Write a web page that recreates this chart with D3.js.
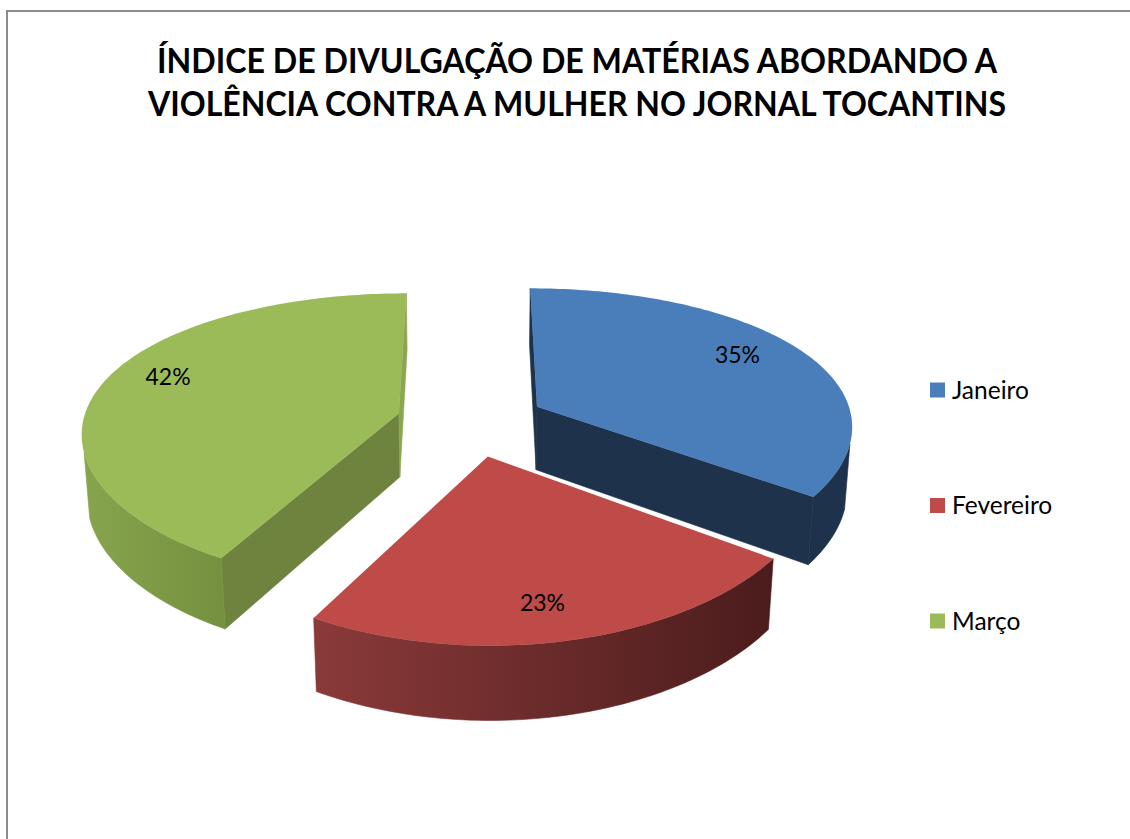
<!DOCTYPE html>
<html>
<head>
<meta charset="UTF-8">
<title>Índice de divulgação</title>
<style>
    body { margin: 0; background: #ffffff; }
    #chart { width: 1130px; height: 839px; }
    text { font-family: Lato, "Open Sans", sans-serif; fill: #000; }
</style>
<script src="https://d3js.org/d3.v7.min.js"></script>
</head>
<body>
<div id="chart"></div>
<script>
// data
const titleLines = ["ÍNDICE DE DIVULGAÇÃO DE MATÉRIAS ABORDANDO A", "VIOLÊNCIA CONTRA A MULHER NO JORNAL TOCANTINS"];
const months = ["Janeiro", "Fevereiro", "Março"];
const shares = [35, 23, 42];

// styles
const topColors  = ["#4a7ebb", "#be4b48", "#9bbb59"];
const wallLight  = ["#1f324b", "#8a3a39", "#87a44d"];
const wallDark   = ["#1f324b", "#4b1c1c", "#75903f"];
const sideStart  = ["#1f324b", "#4b1c1c", "#6e843e"];
const sideEnd    = ["#1f324b", "#4b1c1c", "#8aa650"];
const titleWidth = [840, 858];
const labelNudge = [[-4, -6], [-8, 10], [-2, -10]];

const width = 1130, height = 839;
const R = 316, H = 73, explode = 75, labelR = 245;
const cam = { cx: 471, cy: 422, dist: 1650, tilt: 27 * Math.PI / 180, xPersp: 0.7 };
const cosT = Math.cos(cam.tilt), sinT = Math.sin(cam.tilt);
const eye = [0, cam.dist * sinT, -cam.dist * cosT];

function project(p) {
    const [X, Y, Z] = p;
    const yc = Y * cosT + Z * sinT;
    const zc = cam.dist + Z * cosT - Y * sinT;
    const k = cam.dist / zc;
    return [cam.cx + X * Math.pow(k, cam.xPersp), cam.cy - yc * k];
}
function faces(n, p) {
    return n[0] * (eye[0] - p[0]) + n[1] * (eye[1] - p[1]) + n[2] * (eye[2] - p[2]) > 0;
}
const line = d3.line();

const svg = d3.select("#chart").append("svg")
    .attr("width", width)
    .attr("height", height);
const defs = svg.append("defs");

// frame
svg.append("rect")
    .attr("x", 7).attr("y", 11)
    .attr("width", 1200).attr("height", 900)
    .attr("fill", "none")
    .attr("stroke", "#8c8c8c")
    .attr("stroke-width", 2);

// title
svg.append("g").selectAll("text")
    .data(titleLines)
    .join("text")
    .attr("x", 577)
    .attr("y", (d, i) => 73 + i * 43)
    .attr("text-anchor", "middle")
    .attr("font-size", 34)
    .attr("font-weight", "bold")
    .attr("textLength", (d, i) => titleWidth[i])
    .attr("lengthAdjust", "spacingAndGlyphs")
    .text(d => d);

const arcs = d3.pie().sort(null).value(d => d)(shares);

const slices = arcs.map((a, i) => {
    const mid = (a.startAngle + a.endAngle) / 2;
    const ox = explode * Math.sin(mid), oz = explode * Math.cos(mid);
    const pt = (ang, r, y) => [ox + r * Math.sin(ang), y, oz + r * Math.cos(ang)];
    return { a, i, mid, ox, oz, pt };
});

const pieG = svg.append("g");

slices.slice().sort((s, t) => t.oz - s.oz).forEach(s => {
    const { a, i, pt } = s;
    const g = pieG.append("g");
    const steps = Math.ceil((a.endAngle - a.startAngle) / (Math.PI / 180));
    const angs = d3.range(steps + 1).map(k => a.startAngle + (a.endAngle - a.startAngle) * k / steps);

    // radial walls
    const apexT = [s.ox, 0, s.oz], apexB = [s.ox, -H, s.oz];
    const walls = [
        { ang: a.startAngle, n: [-Math.cos(a.startAngle), 0, Math.sin(a.startAngle)], color: sideStart[i] },
        { ang: a.endAngle, n: [Math.cos(a.endAngle), 0, -Math.sin(a.endAngle)], color: sideEnd[i] }
    ];
    walls.forEach(w => {
        const midP = pt(w.ang, R / 2, -H / 2);
        if (!faces(w.n, midP)) return;
        const quad = [apexT, pt(w.ang, R, 0), pt(w.ang, R, -H), apexB].map(project);
        g.append("path")
            .attr("d", line(quad) + "Z")
            .attr("fill", w.color)
            .attr("stroke", w.color)
            .attr("stroke-width", 0.6);
    });

    // outer wall
    const vis = angs.filter(t => faces([Math.sin(t), 0, Math.cos(t)], pt(t, R, -H / 2)));
    if (vis.length > 1) {
        const topPts = vis.map(t => project(pt(t, R, 0)));
        const botPts = vis.map(t => project(pt(t, R, -H))).reverse();
        const xs = topPts.concat(botPts).map(p => p[0]);
        const gid = "wall" + i;
        const grad = defs.append("linearGradient")
            .attr("id", gid)
            .attr("gradientUnits", "userSpaceOnUse")
            .attr("x1", d3.min(xs)).attr("x2", d3.max(xs))
            .attr("y1", 0).attr("y2", 0);
        grad.append("stop").attr("offset", 0).attr("stop-color", wallLight[i]);
        grad.append("stop").attr("offset", 1).attr("stop-color", wallDark[i]);
        g.append("path")
            .attr("d", line(topPts.concat(botPts)) + "Z")
            .attr("fill", `url(#${gid})`)
            .attr("stroke", `url(#${gid})`)
            .attr("stroke-width", 0.6);
    }

    // top face
    const topFace = [apexT].concat(angs.map(t => pt(t, R, 0))).map(project);
    g.append("path")
        .attr("d", line(topFace) + "Z")
        .attr("fill", topColors[i]);
});

// data labels
svg.append("g").selectAll("text")
    .data(slices)
    .join("text")
    .attr("transform", s => {
        const [x, y] = project(s.pt(s.mid, labelR, 0));
        return `translate(${x + labelNudge[s.i][0]},${y + labelNudge[s.i][1]})`;
    })
    .attr("text-anchor", "middle")
    .attr("dy", "0.35em")
    .attr("font-size", 23)
    .text(s => Math.round(s.a.data) + "%");

// legend
const legY = d3.scaleLinear().domain([0, months.length - 1]).range([390, 621]);
const leg = svg.append("g").selectAll("g")
    .data(months)
    .join("g")
    .attr("transform", (d, i) => `translate(930,${legY(i)})`);
leg.append("rect")
    .attr("x", 0).attr("y", -7.5)
    .attr("width", 15).attr("height", 15)
    .attr("fill", (d, i) => topColors[i]);
leg.append("text")
    .attr("x", 22)
    .attr("dy", "0.35em")
    .attr("font-size", 24.5)
    .text(d => d);
</script>
</body>
</html>
